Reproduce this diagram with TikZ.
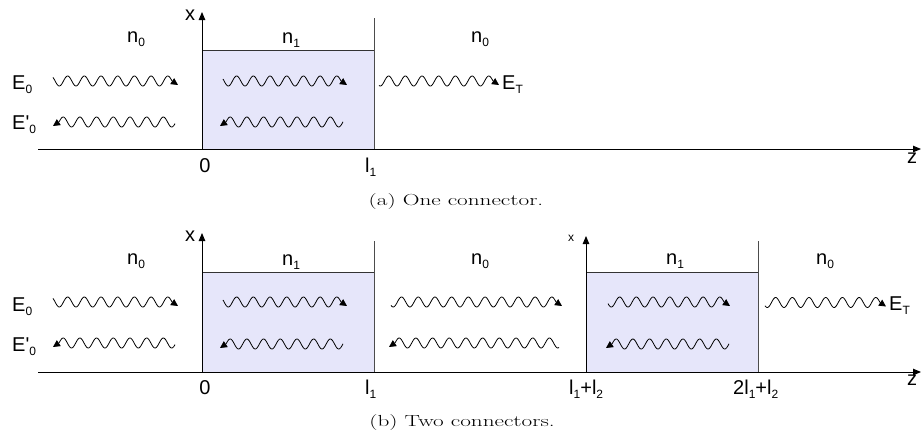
\documentclass[tikz,border=0pt]{standalone}
\usepackage{fontspec}
\usepackage{graphicx}
\usetikzlibrary{arrows.meta}
\newfontfamily\lab{Liberation Sans}[Ligatures=TeXOff]
\definecolor{boxfill}{RGB}{230,230,250}
\newcommand\sbs[1]{\raisebox{-4pt}{\fontsize{12}{12}\selectfont #1}}
% right-going wave: ends (tip) at x=#2
\newcommand\wavR[3]{%
  \pgfmathsetmacro\wend{#2-6}%
  \draw[wv] plot[domain=#1:\wend,samples=180] (\x,{#3-5*sin((\x-\wend)*21.56+180)});
  \draw[wv,-{Triangle[length=7pt,width=7pt]}] (\wend,#3) -- (#2,#3+4);}
% left-going wave: tip at x=#1
\newcommand\wavL[3]{%
  \pgfmathsetmacro\wbeg{#1+6}%
  \draw[wv] plot[domain=\wbeg:#2,samples=180] (\x,{#3-5*sin((\x-\wbeg)*21.56)});
  \draw[wv,-{Triangle[length=7pt,width=7pt]}] (\wbeg,#3) -- (#1,#3+4);}
\tikzset{
  axis/.style={line width=0.9pt, draw=black, -{Triangle[length=8pt,width=6.5pt]}},
  wall/.style={line width=0.9pt, draw=black!70},
  medium/.style={fill=boxfill, draw=black!80, line width=0.9pt},
  lbl/.style={font=\lab\fontsize{20}{20}\selectfont, inner sep=0pt},
  slbl/.style={font=\lab\fontsize{12}{12}\selectfont, inner sep=0pt},
  captext/.style={font=\fontsize{16}{18}\selectfont, inner sep=0pt},
  wv/.style={line width=0.8pt, draw=black}
}
\begin{document}
\begin{tikzpicture}[x=1pt,y=-1pt]
\useasboundingbox (0,0) rectangle (924,440);
% ===== Panel (a) =====
\coordinate (a0) at (38,149);
\coordinate (az) at (921,149);
\coordinate (ax0) at (202,149);
\coordinate (axt) at (202,12);
\coordinate (aw0) at (374,149);
\coordinate (awt) at (374,18);
\filldraw[medium] (202,50.5) rectangle (374,149);
\draw[wall] (aw0) -- (awt);
\draw[axis] (a0) -- (az);
\draw[axis] (ax0) -- (axt);
\node[lbl, anchor=base west] (axl) at (185,20) {x};
\node[lbl, anchor=base west] (an0l) at (127,42) {n\sbs{0}};
\node[lbl, anchor=base west] (an1) at (282,43) {n\sbs{1}};
\node[lbl, anchor=base west] (an0r) at (471,42) {n\sbs{0}};
\node[lbl, anchor=base west] (ae0) at (12,89) {E\sbs{0}};
\node[lbl, anchor=base west] (ae0p) at (12,129) {E'\sbs{0}};
\node[lbl, anchor=base west] (aet) at (502,89) {E\sbs{T}};
\node[lbl, anchor=base] (az0) at (205,172) {0};
\node[lbl, anchor=base west] (al1) at (365,172) {l\sbs{1}};
\node[lbl, anchor=base] (azl) at (912,163) {z};
\wavR{53}{178}{81}
\wavL{53}{175}{122}
\wavR{223}{347}{81}
\wavL{220}{343}{122}
\wavR{379}{499}{81}
\node[captext] (capa) at (456,202) {\scalebox{1.45}[1]{(a)\ One connector.}};
% ===== Panel (b) =====
\coordinate (b0) at (38,372);
\coordinate (bz) at (921,372);
\coordinate (bx0) at (202,372);
\coordinate (bxt) at (202,233);
\coordinate (bw0) at (374,372);
\coordinate (bwt) at (374,241);
\coordinate (bx2) at (586,372);
\coordinate (bx2t) at (586,236);
\coordinate (bw2) at (758,372);
\coordinate (bw2t) at (758,241);
\filldraw[medium] (202,272.5) rectangle (374,372);
\filldraw[medium] (586,272.5) rectangle (758,372);
\draw[wall] (bw0) -- (bwt);
\draw[wall] (bw2) -- (bw2t);
\draw[axis] (b0) -- (bz);
\draw[axis] (bx0) -- (bxt);
\draw[axis] (bx2) -- (bx2t);
\node[lbl, anchor=base west] (bxl) at (185,241) {x};
\node[slbl, anchor=base west] (bxl2) at (568,241) {x};
\node[lbl, anchor=base west] (bn0l) at (127,264) {n\sbs{0}};
\node[lbl, anchor=base west] (bn1) at (282,265) {n\sbs{1}};
\node[lbl, anchor=base west] (bn0m) at (471,264) {n\sbs{0}};
\node[lbl, anchor=base west] (bn1b) at (666,264) {n\sbs{1}};
\node[lbl, anchor=base west] (bn0r) at (816,264) {n\sbs{0}};
\node[lbl, anchor=base west] (be0) at (12,311) {E\sbs{0}};
\node[lbl, anchor=base west] (be0p) at (12,351) {E'\sbs{0}};
\node[lbl, anchor=base west] (bet) at (889,310) {E\sbs{T}};
\node[lbl, anchor=base] (bz0) at (205,394) {0};
\node[lbl, anchor=base west] (bl1) at (365,394) {l\sbs{1}};
\node[lbl, anchor=base west] (bl12) at (569,394) {l\sbs{1}+l\sbs{2}};
\node[lbl, anchor=base west] (b2l12) at (733,394) {2l\sbs{1}+l\sbs{2}};
\node[lbl, anchor=base] (bzl) at (912,385) {z};
\wavR{53}{178}{302}
\wavL{53}{175}{343}
\wavR{223}{347}{302}
\wavL{220}{343}{344}
\wavR{391}{562}{302}
\wavL{389}{559}{343}
\wavR{608}{730}{302}
\wavL{606}{729}{344}
\wavR{765}{886}{302.5}
\node[captext] (capb) at (462,422) {\scalebox{1.45}[1]{(b)\ Two connectors.}};
\end{tikzpicture}
\end{document}
